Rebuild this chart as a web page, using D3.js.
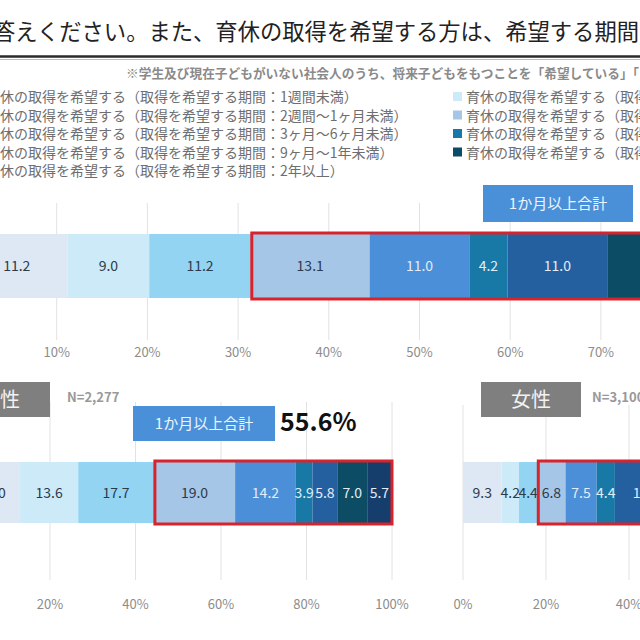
<!DOCTYPE html>
<html><head><meta charset="utf-8">
<script src="https://cdn.jsdelivr.net/npm/d3@7/dist/d3.min.js"></script>
<style>
html,body{margin:0;padding:0;background:#fff;overflow:hidden;}
svg{display:block;font-family:"Noto Sans CJK JP","Noto Sans",sans-serif;}
</style></head>
<body>
<svg id="c" width="640" height="640"></svg>
<script>
const titleText = "答えください。また、育休の取得を希望する方は、希望する期間";
const noteText = "※学生及び現在子どもがいない社会人のうち、将来子どもをもつことを「希望している」「";
const categories = [
  "育休の取得を希望する（取得を希望する期間：1週間未満）",
  "育休の取得を希望する（取得を希望する期間：1週間～2週間未満）",
  "育休の取得を希望する（取得を希望する期間：2週間～1ヶ月未満）",
  "育休の取得を希望する（取得を希望する期間：1ヶ月～3ヶ月未満）",
  "育休の取得を希望する（取得を希望する期間：3ヶ月～6ヶ月未満）",
  "育休の取得を希望する（取得を希望する期間：6ヶ月～9ヶ月未満）",
  "育休の取得を希望する（取得を希望する期間：9ヶ月～1年未満）",
  "育休の取得を希望する（取得を希望する期間：1年～2年未満）",
  "育休の取得を希望する（取得を希望する期間：2年以上）"
];
const colors = ["#dde8f4","#cdeaf9","#94d4f3","#a6c6e8","#4a8fd8","#1878a6","#2460a0","#0c4c65","#163e6c"];
const lightText = [false,false,false,false,true,true,true,true,true];
const totalValues  = [11.2, 9.0, 11.2, 13.1, 11.0, 4.2, 11.0, 14.6, 14.7];
const maleValues   = [13.0, 13.6, 17.7, 19.0, 14.2, 3.9, 5.8, 7.0, 5.7];
const femaleValues = [9.3, 4.2, 4.4, 6.8, 7.5, 4.4, 15.2, 24.6, 23.6];
const totalTicks = [0,10,20,30,40,50,60,70,80,90,100];
const subTicks = [0,20,40,60,80,100];
const summaryLabel = "1か月以上合計";
const maleLabel = "男性", femaleLabel = "女性";
const maleN = "N=2,277", femaleN = "N=3,100";

const svg = d3.select("#c");

// title
svg.append("text").attr("x",639).attr("y",40).attr("text-anchor","end")
  .attr("font-size",22.3).attr("fill","#222").text(titleText);
svg.append("line").attr("x1",0).attr("x2",640).attr("y1",56.5).attr("y2",56.5).attr("stroke","#2a2a2a").attr("stroke-width",2.5);
svg.append("line").attr("x1",0).attr("x2",640).attr("y1",59.5).attr("y2",59.5).attr("stroke","#bbb").attr("stroke-width",1);
svg.append("text").attr("x",639).attr("y",78).attr("text-anchor","end")
  .attr("font-size",12.7).attr("font-weight","bold").attr("fill","#8a8a8a").text(noteText);

// legend
const leftIdx = [0,2,4,6,8], rightIdx = [1,3,5,7];
const legY = d3.scaleLinear().domain([0,4]).range([97,171]);
leftIdx.forEach((ci,r)=>{
  const g = svg.append("g");
  g.append("rect").attr("x",-30).attr("y",legY(r)-5).attr("width",9).attr("height",9).attr("fill",colors[ci]);
  g.append("text").attr("x",-14).attr("y",legY(r)+5).attr("font-size",14).attr("fill","#6e6e6e").text(categories[ci]);
});
rightIdx.forEach((ci,r)=>{
  const g = svg.append("g");
  g.append("rect").attr("x",453).attr("y",legY(r)-5).attr("width",9).attr("height",9).attr("fill",colors[ci]);
  g.append("text").attr("x",466).attr("y",legY(r)+5).attr("font-size",14).attr("fill","#6e6e6e").text(categories[ci]);
});

function drawChart(values, x, ticks, cfg){
  const g = svg.append("g");
  g.selectAll("line.grid").data(ticks).join("line")
    .attr("x1",d=>x(d)).attr("x2",d=>x(d))
    .attr("y1",cfg.gridTop).attr("y2",cfg.gridBottom)
    .attr("stroke","#e2e2e2").attr("stroke-width",1);
  g.selectAll("text.tick").data(ticks).join("text")
    .attr("x",d=>x(d)).attr("y",cfg.labelY).attr("text-anchor","middle")
    .attr("font-size",13).attr("fill","#8c8c8c").text(d=>d+"%");
  const cum = d3.cumsum(values);
  const segs = values.map((v,i)=>({v, i, x0: i?cum[i-1]:0, x1: cum[i]}));
  g.selectAll("rect.seg").data(segs).join("rect")
    .attr("x",d=>x(d.x0)).attr("width",d=>x(d.x1)-x(d.x0))
    .attr("y",cfg.barY).attr("height",cfg.barH).attr("fill",d=>colors[d.i]);
  g.selectAll("text.val").data(segs).join("text")
    .attr("x",d=>(x(d.x0)+x(d.x1))/2).attr("y",cfg.barY+cfg.barH/2+5)
    .attr("text-anchor","middle").attr("font-size",cfg.fs)
    .attr("fill",d=>lightText[d.i]?"#e3edf8":"#2b3b4c").text(d=>d.v.toFixed(1));
  const start = cum[2];
  g.append("rect").attr("x",x(start)+1).attr("width",x(100)-x(start)-1)
    .attr("y",cfg.barY-1).attr("height",cfg.barH+2)
    .attr("fill","none").attr("stroke","#d9232b").attr("stroke-width",3);
  return d3.sum(values.slice(3));
}

// overall chart
const xTotal = d3.scaleLinear().domain([0,100]).range([-34, 873]);
const totalSum = drawChart(totalValues, xTotal, totalTicks, {gridTop:203,gridBottom:340,labelY:357,barY:234,barH:64,fs:14});
svg.append("rect").attr("x",483).attr("y",185).attr("width",150).attr("height",37).attr("fill","#4a90d9");
svg.append("text").attr("x",558).attr("y",209).attr("text-anchor","middle").attr("font-size",15).attr("fill","#eef4fb").text(summaryLabel);
svg.append("text").attr("x",648).attr("y",214).attr("font-size",24).attr("font-weight","bold").attr("fill","#111").text(totalSum.toFixed(1)+"%");

// male chart
const xMale = d3.scaleLinear().domain([0,100]).range([-35.5, 392]);
const maleSum = drawChart(maleValues, xMale, subTicks, {gridTop:402,gridBottom:580,labelY:609,barY:462,barH:61,fs:14});
svg.append("rect").attr("x",-50).attr("y",382).attr("width",100).attr("height",35).attr("fill","#7f7f7f");
svg.append("text").attr("x",0).attr("y",407).attr("text-anchor","middle").attr("font-size",20).attr("fill","#f2f2f2").text(maleLabel);
svg.append("text").attr("x",67).attr("y",402).attr("font-size",13).attr("font-weight","bold").attr("fill","#999").text(maleN);
svg.append("rect").attr("x",133).attr("y",406).attr("width",142).attr("height",35).attr("fill","#4a90d9");
svg.append("text").attr("x",204).attr("y",429).attr("text-anchor","middle").attr("font-size",15).attr("fill","#eef4fb").text(summaryLabel);
svg.append("text").attr("x",280).attr("y",431).attr("font-size",25).attr("font-weight","bold").attr("fill","#111").text(maleSum.toFixed(1)+"%");

// female chart
const xFemale = d3.scaleLinear().domain([0,100]).range([463, 878]);
const femaleSum = drawChart(femaleValues, xFemale, subTicks, {gridTop:405,gridBottom:580,labelY:609,barY:462,barH:61,fs:14});
svg.append("rect").attr("x",481).attr("y",382).attr("width",100).attr("height",35).attr("fill","#7f7f7f");
svg.append("text").attr("x",531).attr("y",407).attr("text-anchor","middle").attr("font-size",20).attr("fill","#f2f2f2").text(femaleLabel);
svg.append("text").attr("x",592).attr("y",402).attr("font-size",13).attr("font-weight","bold").attr("fill","#999").text(femaleN);
</script>
</body></html>
